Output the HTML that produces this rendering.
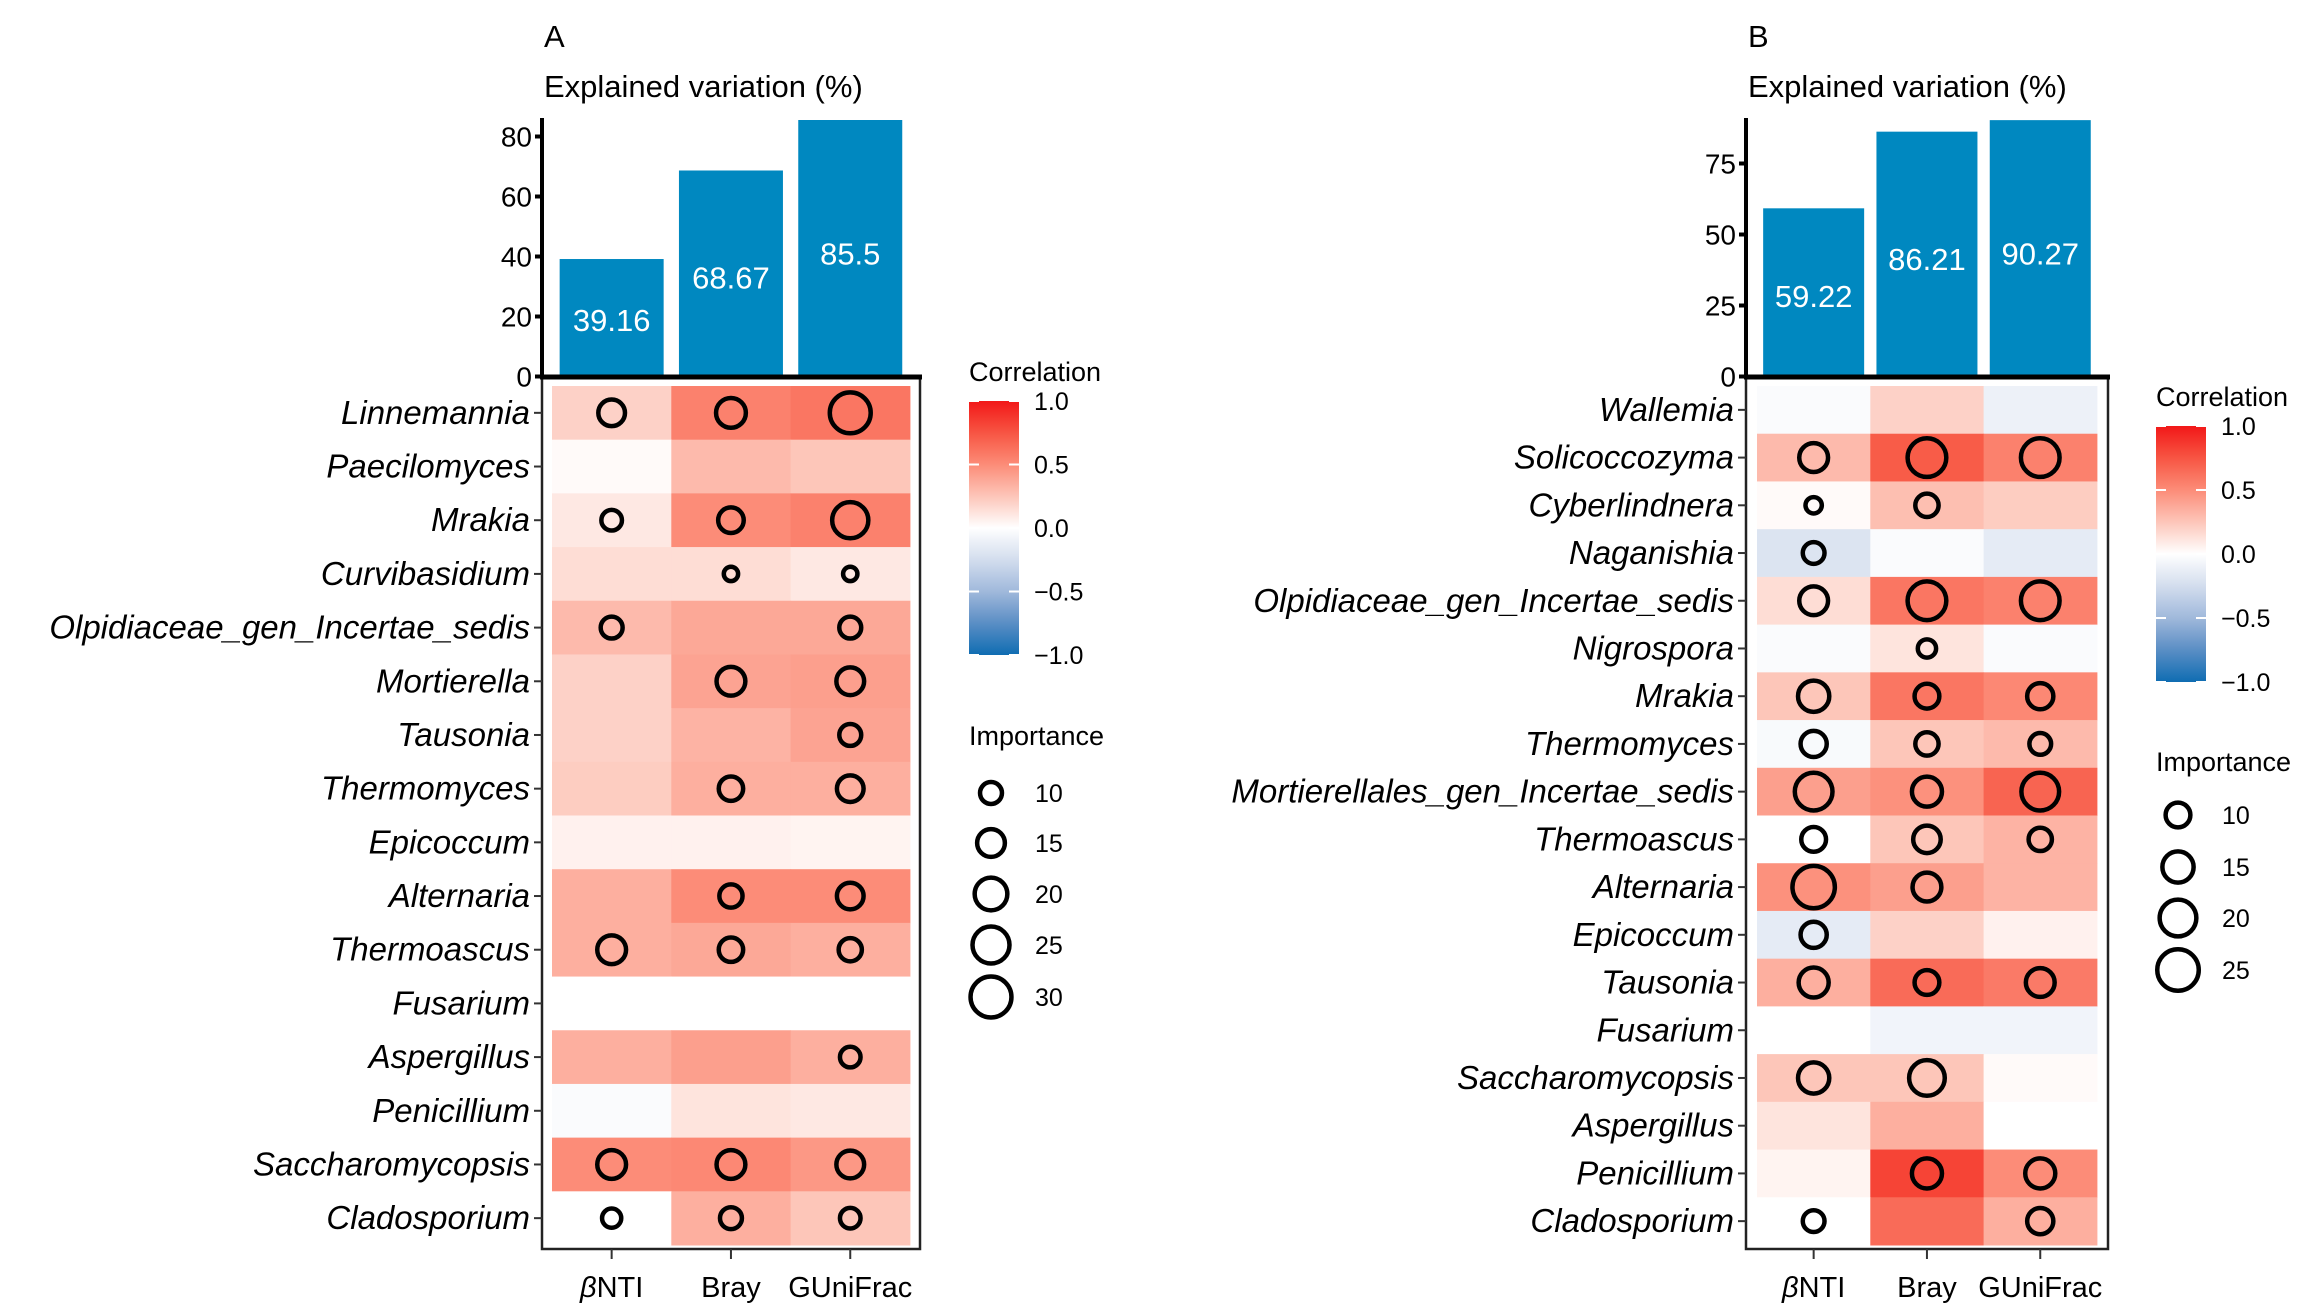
<!DOCTYPE html>
<html><head><meta charset="utf-8"><style>
html,body{margin:0;padding:0;background:#fff;}
svg{display:block;font-family:"Liberation Sans",Arial,sans-serif;}
</style></head><body>
<svg id="chart" width="2308" height="1315" viewBox="0 0 2308 1315" xmlns="http://www.w3.org/2000/svg">
<rect x="0" y="0" width="2308" height="1315" fill="#fff"/>
</svg>
<script>
// ---------- data ----------
const methods = ["βNTI", "Bray", "GUniFrac"];
const barA = [39.16, 68.67, 85.5];
const barB = [59.22, 86.21, 90.27];
const ticksA = [0, 20, 40, 60, 80];
const ticksB = [0, 25, 50, 75];
const taxaA = ["Linnemannia","Paecilomyces","Mrakia","Curvibasidium","Olpidiaceae_gen_Incertae_sedis","Mortierella","Tausonia","Thermomyces","Epicoccum","Alternaria","Thermoascus","Fusarium","Aspergillus","Penicillium","Saccharomycopsis","Cladosporium"];
const corrA = [
 [0.2,0.55,0.6],[0.02,0.3,0.25],[0.1,0.5,0.55],[0.15,0.15,0.1],[0.3,0.38,0.38],[0.2,0.4,0.42],[0.2,0.33,0.4],[0.22,0.35,0.35],
 [0.06,0.06,0.05],[0.35,0.5,0.5],[0.35,0.38,0.35],[0,0,0],[0.35,0.42,0.35],[-0.03,0.12,0.1],[0.5,0.52,0.45],[0,0.35,0.25]];
const impA = [
 [14,17,30],[0,0,0],[9,13,24],[0,5,5],[10,0,10],[0,16,15],[0,0,10],[0,12,14],
 [0,0,0],[0,11,14],[16,12,11],[0,0,0],[0,0,9],[0,0,0],[16,16,15],[8,10,9]];
const taxaB = ["Wallemia","Solicoccozyma","Cyberlindnera","Naganishia","Olpidiaceae_gen_Incertae_sedis","Nigrospora","Mrakia","Thermomyces","Mortierellales_gen_Incertae_sedis","Thermoascus","Alternaria","Epicoccum","Tausonia","Fusarium","Saccharomycopsis","Aspergillus","Penicillium","Cladosporium"];
const corrB = [
 [-0.03,0.2,-0.1],[0.3,0.72,0.55],[0.02,0.28,0.22],[-0.2,-0.03,-0.15],[0.15,0.6,0.55],[-0.03,0.12,-0.03],[0.25,0.6,0.52],[-0.04,0.25,0.3],
 [0.42,0.48,0.68],[0,0.25,0.33],[0.48,0.42,0.33],[-0.15,0.2,0.06],[0.35,0.65,0.58],[0,-0.08,-0.08],[0.25,0.25,0.02],[0.12,0.35,0],[0.05,0.82,0.5],[0,0.65,0.35]];
const impB = [
 [0,0,0],[13,22,22],[5,9,0],[8,0,0],[13,22,22],[0,6,0],[15,10,11],[11,9,8],
 [21,14,21],[10,12,9],[26,13,0],[11,0,0],[14,10,13],[0,0,0],[15,19,0],[0,0,0],[0,14,14],[8,0,11]];
const legCorr = [1.0, 0.5, 0.0, -0.5, -1.0];
const legImpA = [10, 15, 20, 25, 30];
const legImpB = [10, 15, 20, 25];

const NS = "http://www.w3.org/2000/svg";
const svg = document.getElementById("chart");
function mk(tag, attrs, parent, text) {
  const e = document.createElementNS(NS, tag);
  for (const k in attrs) e.setAttribute(k, attrs[k]);
  if (text !== undefined) e.textContent = text;
  (parent || svg).appendChild(e);
  return e;
}
function lerp(a,b,t){return a+(b-a)*t;}
function hex(c){return [parseInt(c.slice(1,3),16),parseInt(c.slice(3,5),16),parseInt(c.slice(5,7),16)];}
const posStops = [[0,"#ffffff"],[0.25,"#fdc6b9"],[0.5,"#fc8c78"],[0.75,"#f75542"],[1,"#f21818"]];
const negStops = [[0,"#ffffff"],[0.25,"#d3ddee"],[0.5,"#a0b9db"],[0.75,"#5a8dc5"],[1,"#0f6db2"]];
function color(v){
  const stops = v>=0?posStops:negStops; const a=Math.min(1,Math.abs(v));
  for(let i=1;i<stops.length;i++){ if(a<=stops[i][0]){
    const t=(a-stops[i-1][0])/(stops[i][0]-stops[i-1][0]);
    const c0=hex(stops[i-1][1]),c1=hex(stops[i][1]);
    return "rgb("+c0.map((c,j)=>Math.round(lerp(c,c1[j],t))).join(",")+")";}}
  return stops[stops.length-1][1];
}

function panel(cfg){
  const g = mk("g", {});
  
  
  const lt = mk("text",{x:cfg.axisX+2,y:47,"font-size":31,fill:"#000"},g,cfg.letter);
  
  
  const tt = mk("text",{x:cfg.axisX+2,y:97,"font-size":31,fill:"#000"},g,"Explained variation (%)");
  
  
  const base = 376.5;
  const yb = v => base - v*cfg.ppu;
  const colX = i => cfg.cellX0 + (i+0.5)*cfg.cellW;
  cfg.bars.forEach((v,i)=>{
    const r = mk("rect",{x:colX(i)-cfg.barW/2,y:yb(v),width:cfg.barW,height:base-yb(v),fill:"#0088c0"},g);
    
    
    const t = mk("text",{x:colX(i),y:yb(v*0.48)+11,"font-size":31,fill:"#fff","text-anchor":"middle"},g,String(v));
    
    
  });
  const ax = mk("line",{x1:cfg.axisX,y1:118,x2:cfg.axisX,y2:base,stroke:"#000","stroke-width":4},g);
  
  
  cfg.ticks.forEach(v=>{
    mk("line",{x1:cfg.axisX-7,y1:yb(v),x2:cfg.axisX,y2:yb(v),stroke:"#000","stroke-width":4},g);
    const t = mk("text",{x:cfg.axisX-10,y:yb(v)+10,"font-size":28,fill:"#000","text-anchor":"end"},g,String(v));
    
    
  });
  const nR = cfg.taxa.length;
  const rowH = (1245-386)/nR;
  const rowY = r => 386 + r*rowH;
  cfg.corr.forEach((row,r)=>row.forEach((v,c)=>{
    const cell = mk("rect",{x:cfg.cellX0+c*cfg.cellW,y:rowY(r),width:cfg.cellW+0.5,height:rowH+0.5,fill:color(v)},g);
    
    
  }));
  cfg.imp.forEach((row,r)=>row.forEach((v,c)=>{
    if(v>0){
      const ci = mk("circle",{cx:colX(c),cy:rowY(r)+rowH/2,r:cfg.k*Math.sqrt(v)-2,fill:"none",stroke:"#000","stroke-width":4.5},g);
      
      
    }
  }));
  mk("path",{d:`M${cfg.axisX} 378 V1249 H${cfg.frameR} V378`,fill:"none",stroke:"#222","stroke-width":2.5},g);
  const top = mk("line",{x1:cfg.axisX-2,y1:377,x2:cfg.frameR+2,y2:377,stroke:"#000","stroke-width":5},g);
  
  
  cfg.taxa.forEach((n,r)=>{
    const cy = rowY(r)+rowH/2;
    mk("line",{x1:cfg.axisX-8,y1:cy,x2:cfg.axisX,y2:cy,stroke:"#333","stroke-width":2},g);
    const t = mk("text",{x:cfg.axisX-12,y:cy+11,"font-size":cfg.labelSize,"font-style":"italic",fill:"#000","text-anchor":"end"},g,n);
    
    
  });
  methods.forEach((m,i)=>{
    mk("line",{x1:colX(i),y1:1249,x2:colX(i),y2:1259,stroke:"#333","stroke-width":2},g);
    let t;
    if(i===0){
      t = mk("text",{x:colX(i),y:1297,"font-size":29,fill:"#000","text-anchor":"middle"},g);
      mk("tspan",{"font-style":"italic"},t,"β");
      mk("tspan",{},t,"NTI");
    } else t = mk("text",{x:colX(i),y:1297,"font-size":29,fill:"#000","text-anchor":"middle"},g,m);
    
    
  });
  const L = cfg.leg;
  const ct = mk("text",{x:L.x,y:L.titleY,"font-size":27,fill:"#000"},g,"Correlation");
  
  
  const gid = "grad"+cfg.letter;
  const defs = mk("defs",{},g);
  const lg = mk("linearGradient",{id:gid,x1:0,y1:0,x2:0,y2:1},defs);
  for(let i=0;i<=20;i++){ const v=1-i/10; mk("stop",{offset:(i/20),"stop-color":color(v)},lg); }
  const yc = v => L.barTop + (1-v)/2*(L.barBot-L.barTop);
  const cb = mk("rect",{x:L.x,y:L.barTop,width:50,height:L.barBot-L.barTop,fill:`url(#${gid})`},g);
  
  
  legCorr.forEach(v=>{
    mk("line",{x1:L.x,y1:yc(v),x2:L.x+10,y2:yc(v),stroke:"#fff","stroke-width":2},g);
    mk("line",{x1:L.x+40,y1:yc(v),x2:L.x+50,y2:yc(v),stroke:"#fff","stroke-width":2},g);
    const t = mk("text",{x:L.x+65,y:yc(v)+9,"font-size":25,fill:"#000"},g,(v<0?"\u2212":"")+Math.abs(v).toFixed(1));
    
    
  });
  const it = mk("text",{x:L.x,y:L.impTitleY,"font-size":27,fill:"#000"},g,"Importance");
  
  
  cfg.legImp.forEach((v,i)=>{
    const cy = L.impY[i];
    const c = mk("circle",{cx:L.x+22,cy:cy,r:cfg.k*Math.sqrt(v)-2,fill:"none",stroke:"#000","stroke-width":4.5},g);
    
    
    const t = mk("text",{x:L.x+66,y:cy+9,"font-size":25,fill:"#000"},g,String(v));
    
    
  });
}

panel({name:"panel-a",letter:"A",axisX:542,frameR:920,cellX0:552,cellW:119.3,barW:104,ppu:3.0,
  bars:barA,ticks:ticksA,taxa:taxaA,corr:corrA,imp:impA,k:4.1,labelSize:33,legImp:legImpA,
  leg:{x:969,titleY:381,barTop:401,barBot:655,impTitleY:745,impY:[793,843,894,945,997]}});
panel({name:"panel-b",letter:"B",axisX:1746,frameR:2108,cellX0:1757,cellW:113.3,barW:101,ppu:2.84,
  bars:barB,ticks:ticksB,taxa:taxaB,corr:corrB,imp:impB,k:4.55,labelSize:33,legImp:legImpB,
  leg:{x:2156,titleY:406,barTop:426,barBot:682,impTitleY:771,impY:[815,867,918,970]}});
</script>
</body></html>
